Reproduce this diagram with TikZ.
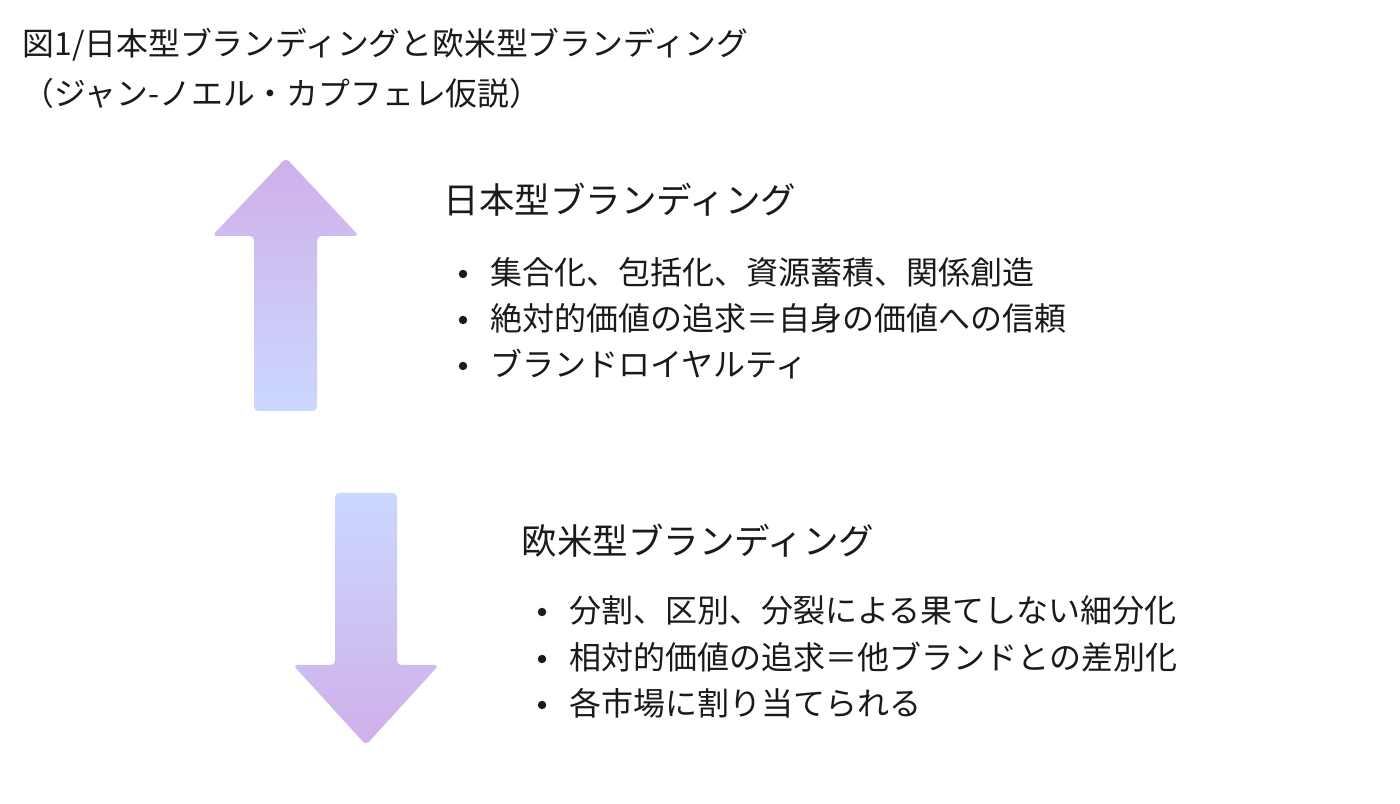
\documentclass[tikz,border=0pt]{standalone}
\usepackage{fontspec}
\setmainfont{Noto Sans CJK JP}
\definecolor{arrowtop}{HTML}{D0AFEA}
\definecolor{arrowbottom}{HTML}{CAD8FE}
\definecolor{ink}{HTML}{1A1A1A}
\tikzset{
  caption/.style={anchor=west, inner sep=0pt, text=ink, font=\fontsize{9.05pt}{11pt}\selectfont},
  heading/.style={anchor=west, inner sep=0pt, text=ink, font=\fontsize{10.1pt}{12pt}\selectfont},
  item/.style={anchor=west, inner sep=0pt, text=ink, font=\fontsize{9.1pt}{11pt}\selectfont},
  dot/.style={circle, fill=ink, inner sep=0pt, minimum size=2.4pt}
}
\begin{document}
\begin{tikzpicture}[x=0.01cm, y=-0.01cm]
\useasboundingbox[fill=white] (0,0) rectangle (1400,804);
% title
\node[caption] (title1) at (22,45) {図1/日本型ブランディングと欧米型ブランディング};
\node[caption] (title2) at (22,93) {（ジャン-ノエル・カプフェレ仮説）};
% up arrow
\shade[top color=arrowtop, bottom color=arrowbottom, rounded corners=1.2pt]
  (286,158) -- (359,236) -- (317,236) -- (317,411) -- (254,411) -- (254,236) -- (212,236) -- cycle;
% down arrow
\shade[top color=arrowbottom, bottom color=arrowtop, rounded corners=1.2pt]
  (335,493) -- (397,493) -- (397,665) -- (439,665) -- (366,745) -- (293,665) -- (335,665) -- cycle;
% japanese branding
\node[heading] (jpHead) at (443,200) {日本型ブランディング};
\node[dot] (jpDotA) at (463,274) {};
\node[dot] (jpDotB) at (463,320) {};
\node[dot] (jpDotC) at (463,366) {};
\node[item] (jpItemA) at (490,272) {集合化、包括化、資源蓄積、関係創造};
\node[item] (jpItemB) at (490,318) {絶対的価値の追求＝自身の価値への信頼};
\node[item] (jpItemC) at (490,364) {ブランドロイヤルティ};
% western branding
\node[heading] (euHead) at (521,541) {欧米型ブランディング};
\node[dot] (euDotA) at (542,612) {};
\node[dot] (euDotB) at (542,659) {};
\node[dot] (euDotC) at (542,705) {};
\node[item] (euItemA) at (569,610) {分割、区別、分裂による果てしない細分化};
\node[item] (euItemB) at (569,657) {相対的価値の追求＝他ブランドとの差別化};
\node[item] (euItemC) at (569,703) {各市場に割り当てられる};
\end{tikzpicture}
\end{document}
